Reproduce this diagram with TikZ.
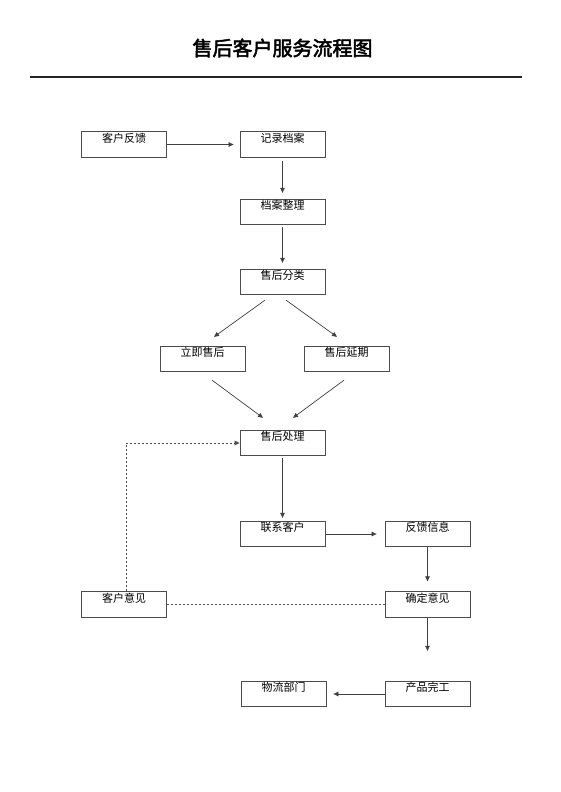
\documentclass[tikz,border=0pt]{standalone}
\usepackage{fontspec}
\newfontfamily\cjk{Noto Sans CJK SC}
\newfontfamily\cjkbold[FakeBold=2.5]{Noto Sans CJK SC}
\usetikzlibrary{arrows.meta,calc}
\begin{document}
\begin{tikzpicture}[x=1pt,y=-1pt,
  stepbox/.style={draw=black!70, line width=0.8pt, rectangle, minimum width=85pt,
    inner xsep=0pt, inner ysep=0pt, text height=10.5pt, text depth=15pt,
    font=\cjk\fontsize{11}{11}\selectfont},
  arr/.style={draw=black!75, line width=0.7pt, -{Triangle[length=5pt,width=4.5pt]}},
  dsh/.style={draw=black!70, line width=0.7pt, dash pattern=on 2pt off 2pt}]
\useasboundingbox (0,0) rectangle (560,792);
\node[font=\cjkbold\fontsize{20}{20}\selectfont] (title) at (282.5,48) {售后客户服务流程图};
\coordinate (r1) at (30,77);
\coordinate (r2) at (522,77);
\draw[line width=1.4pt, black!85] (r1) -- (r2);

\node[stepbox] (kf) at (124,144.5) {客户反馈};
\node[stepbox] (jl) at (282.5,144.5) {记录档案};
\node[stepbox] (da) at (282.5,212) {档案整理};
\node[stepbox] (fl) at (282.5,282) {售后分类};
\node[stepbox] (lj) at (202.5,359) {立即售后};
\node[stepbox] (yq) at (346.5,359) {售后延期};
\node[stepbox] (cl) at (282.5,443) {售后处理};
\node[stepbox] (lx) at (282.5,534) {联系客户};
\node[stepbox] (fx) at (427.5,534) {反馈信息};
\node[stepbox] (qd) at (427.5,604.5) {确定意见};
\node[stepbox] (yj) at (124,604.5) {客户意见};
\node[stepbox] (cp) at (427.5,694) {产品完工};
\node[stepbox] (wl) at (283.5,694) {物流部门};

\draw[arr, shorten >=6pt] (kf.east) -- (jl.west);
\draw[arr, shorten <=3pt, shorten >=6pt] (jl.south) -- (da.north);
\draw[arr, shorten <=2pt, shorten >=6pt] (da.south) -- (fl.north);
\draw[arr] ($(fl.south)+(-17.5,5)$) -- ($(lj.north)+(11.5,-9)$);
\draw[arr] ($(fl.south)+(3.5,5)$) -- ($(yq.north)+(-9.5,-9)$);
\draw[arr] ($(lj.south)+(9.5,8)$) -- ($(cl.north)+(-19.5,-12)$);
\draw[arr] ($(yq.south)+(-2.5,8)$) -- ($(cl.north)+(10.5,-12)$);
\draw[arr, shorten <=2pt, shorten >=3pt] (cl.south) -- (lx.north);
\draw[arr, shorten <=1pt, shorten >=8pt] (lx.east) -- (fx.west);
\draw[arr, shorten >=10pt] (fx.south) -- (qd.north);
\draw[arr, shorten >=30pt] (qd.south) -- (cp.north);
\draw[arr, shorten >=7pt] (cp.west) -- (wl.east);
\draw[dsh] (yj.east) -- (qd.west);
\draw[dsh, -{Triangle[length=5pt,width=4.5pt]}] ($(yj.north)+(2,0)$) |- (cl.west);
\end{tikzpicture}
\end{document}
